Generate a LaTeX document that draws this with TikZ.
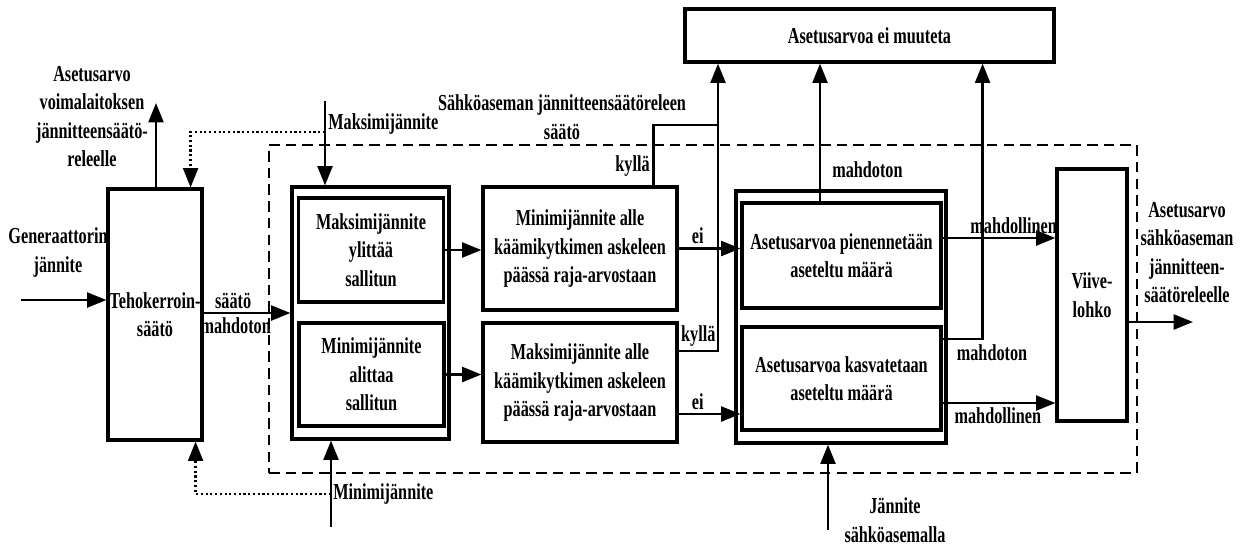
\documentclass[tikz,border=0pt]{standalone}
\usepackage{fontspec}
\setmainfont{Liberation Serif}[FakeStretch=0.71]
\usetikzlibrary{arrows.meta}
\newcommand{\boxfont}{\bfseries\fontsize{13}{16.2}\selectfont}

\begin{document}
\begin{tikzpicture}[
  every node/.style={font=\boxfont, align=center, inner sep=0pt},
  blk/.style={draw, line width=1.8pt},
  frame/.style={draw, line width=1.6pt, dash pattern=on 6pt off 3.5pt},
  arr/.style={line width=1.4pt, -{Triangle[length=11pt,width=8.5pt]}},
  wire/.style={line width=1.4pt},
  dotarr/.style={line width=1.3pt, dash pattern=on 1.2pt off 1.5pt, -{Triangle[length=11pt,width=8.5pt]}},
  lab/.style={inner sep=2pt}
]
% Bounding box
\useasboundingbox (0,0) rectangle (24.86,-10.90);
% Dashed frame
\node[frame, minimum width=17.36cm, minimum height=6.56cm] (frame) at (14.06,-6.18) {};
% Blocks
\node[blk, minimum width=1.88cm, minimum height=5.02cm] (teho) at (3.10,-6.29) {Tehokerroin-\\säätö};
\node[blk, minimum width=3.14cm, minimum height=5.04cm] (rajat) at (7.41,-6.26) {};
\node[blk, minimum width=2.90cm, minimum height=2.08cm] (ylitys) at (7.42,-5.00) {Maksimijännite\\ylittää\\sallitun};
\node[blk, minimum width=2.90cm, minimum height=2.06cm] (alitus) at (7.43,-7.49) {Minimijännite\\alittaa\\sallitun};
\node[blk, minimum width=3.88cm, minimum height=2.46cm] (minraja) at (11.60,-4.97) {Minimijännite alle\\käämikytkimen askeleen\\päässä raja-arvostaan};
\node[blk, minimum width=3.88cm, minimum height=2.38cm] (maxraja) at (11.60,-7.65) {Maksimijännite alle\\käämikytkimen askeleen\\päässä raja-arvostaan};
\node[blk, minimum width=4.20cm, minimum height=5.04cm] (muutos) at (16.82,-6.34) {};
\node[blk, minimum width=3.98cm, minimum height=2.10cm] (pienen) at (16.83,-5.11) {Asetusarvoa pienennetään\\aseteltu määrä};
\node[blk, minimum width=3.98cm, minimum height=2.06cm] (kasvat) at (16.83,-7.57) {Asetusarvoa kasvatetaan\\aseteltu määrä};
\node[blk, minimum width=1.40cm, minimum height=5.04cm] (viive) at (21.84,-5.90) {Viive-\\lohko};
\node[blk, minimum width=7.38cm, minimum height=1.06cm] (eimuut) at (17.39,-0.71) {Asetusarvoa ei muuteta};
% Free labels
\node (gen) at (1.16,-5.05) {Generaattorin\\jännite};
\node (voima) at (1.84,-2.33) {Asetusarvo\\voimalaitoksen\\jännitteensäätö-\\releelle};
\node[anchor=west] (maxlab) at (6.56,-2.48) {Maksimijännite};
\node[anchor=west] (minlab) at (6.66,-9.88) {Minimijännite};
\node (rele) at (11.24,-2.34) {Sähköaseman jännitteensäätöreleen\\säätö};
\node (kylla1) at (12.65,-3.32) {kyllä};
\node (mahd2) at (19.84,-7.06) {mahdoton};
\node (asema) at (23.74,-5.05) {Asetusarvo\\sähköaseman\\jännitteen-\\säätöreleelle};
\node (jannite) at (17.90,-10.40) {Jännite\\sähköasemalla};
% Free ends
\coordinate (genin) at (0.42,-6.00);
\coordinate (voimaout) at (3.12,-2.06);
\coordinate (maxin) at (6.50,-2.02);
\coordinate (minin) at (6.62,-10.54);
\coordinate (dot1) at (6.50,-2.64);
\coordinate (dot2) at (6.62,-9.88);
\coordinate (yhd) at (14.36,-2.50);
\coordinate (asemaout) at (23.86,-6.44);
\coordinate (janin) at (16.56,-10.60);
% Connectors
\draw[arr] (genin) -- (genin -| teho.west);
\draw[arr] (voimaout |- teho.north) -- (voimaout);
\draw[dotarr] (dot1) -| ([xshift=-0.26cm]teho.north east);
\draw[dotarr] (dot2) -| ([xshift=-0.16cm]teho.south east);
\draw[arr] (maxin) -- (maxin |- rajat.north);
\draw[arr] (minin) -- (minin |- rajat.south);
\draw[arr] (teho.east |- rajat.west) -- (rajat.west)
  node[lab, above, pos=0.34] {säätö} node[lab, below, pos=0.37] {mahdoton};
\draw[arr] (ylitys.east) -- (ylitys.east -| minraja.west);
\draw[arr] (alitus.east) -- (alitus.east -| maxraja.west);
\draw[arr] (minraja.east) -- (minraja.east -| pienen.west) node[lab, above, pos=0.31] {ei};
\draw[arr] ([yshift=-0.63cm]maxraja.east) -- ([yshift=-0.63cm]maxraja.east -| kasvat.west) node[lab, above, pos=0.31] {ei};
\draw[wire] ([xshift=-0.50cm]minraja.north east) |- (yhd);
\draw[wire] ([yshift=0.63cm]maxraja.east) -| (yhd) node[lab, above, pos=0.25] {kyllä};
\draw[arr] (yhd) -- (yhd |- eimuut.south);
\draw[arr] ([xshift=-0.43cm]pienen.north) -- ([xshift=-0.43cm]pienen.north |- eimuut.south)
  node[lab, right=0.15cm, pos=0.23] {mahdoton};
\draw[arr] ([yshift=0.79cm]kasvat.east) -| ([xshift=-1.46cm]eimuut.south east);
\draw[arr] ([yshift=0.35cm]pienen.east) -- ([yshift=0.35cm]pienen.east -| viive.west)
  node[lab, above, pos=0.63] {mahdollinen};
\draw[arr] ([yshift=-0.49cm]kasvat.east) -- ([yshift=-0.49cm]kasvat.east -| viive.west)
  node[lab, below, pos=0.49] {mahdollinen};
\draw[arr] (asemaout -| viive.east) -- (asemaout);
\draw[arr] (janin) -- (janin |- muutos.south);
\end{tikzpicture}
\end{document}
